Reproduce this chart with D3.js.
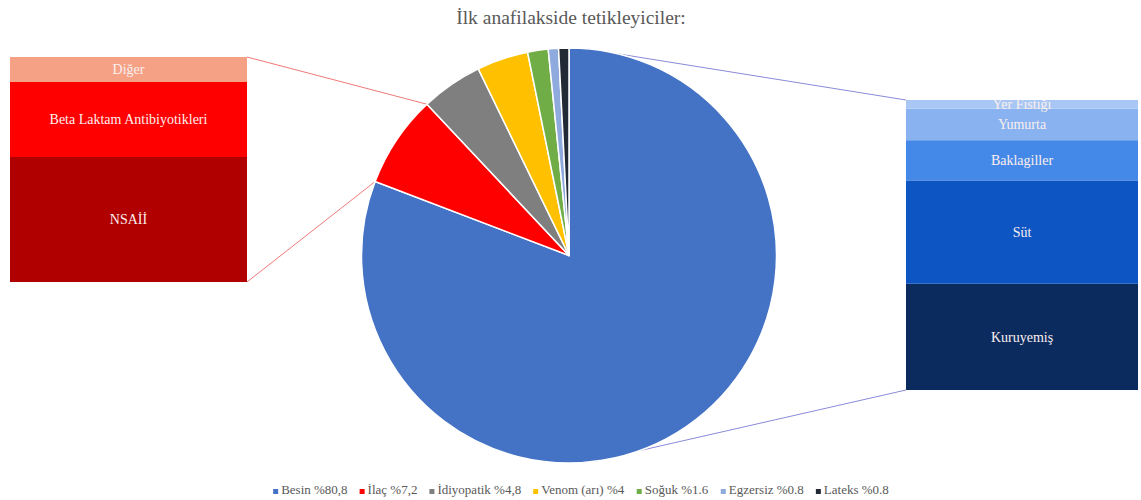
<!DOCTYPE html>
<html>
<head>
<meta charset="utf-8">
<script src="https://cdn.jsdelivr.net/npm/d3@7"></script>
<style>
    body { margin: 0; background: #fff; }
    text { font-family: "Liberation Serif", "Times New Roman", serif; }
</style>
</head>
<body>
<div id="chart"></div>
<script>
// ana pasta verisi (%)
const pieLabels = ["Besin", "İlaç", "İdiyopatik", "Venom (arı)", "Soğuk", "Egzersiz", "Lateks"];
const pieValues = [80.8, 7.2, 4.8, 4, 1.6, 0.8, 0.8];
const legendTexts = ["Besin %80,8", "İlaç %7,2", "İdiyopatik %4,8", "Venom (arı) %4", "Soğuk %1.6", "Egzersiz %0.8", "Lateks %0.8"];
const pieColors = ["#4472c4", "#ff0000", "#7f7f7f", "#ffc000", "#70ad47", "#8faadc", "#222a35"];

// İlaç alt kırılımı (hasta sayısı, alttan üste)
const drugLabels = ["NSAİİ", "Beta Laktam Antibiyotikleri", "Diğer"];
const drugValues = [5, 3, 1];
const drugColors = ["#b00000", "#ff0000", "#f4a186"];

// Besin alt kırılımı (hasta sayısı, alttan üste)
const foodLabels = ["Kuruyemiş", "Süt", "Baklagiller", "Yumurta", "Yer Fıstığı"];
const foodValues = [37, 36, 14, 11, 3];
const foodColors = ["#0b2b5f", "#0e55c4", "#4589e8", "#88b2f0", "#a9c7f4"];

const width = 1141, height = 500;
const cx = 569, cy = 255.5, r = 207.5;

const svg = d3.select("#chart").append("svg")
    .attr("width", width)
    .attr("height", height);

svg.append("text")
    .attr("x", 571)
    .attr("y", 24)
    .attr("text-anchor", "middle")
    .attr("fill", "#595959")
    .style("font-size", "19.5px")
    .text("İlk anafilakside tetikleyiciler:");

const pie = d3.pie().sort(null).value(d => d)(pieValues);
const arc = d3.arc().innerRadius(0).outerRadius(r);

// pasta kenarındaki nokta
function edge(angle) {
    return [cx + r * Math.sin(angle), cy - r * Math.cos(angle)];
}

// yığılmış sütun çizimi
function drawBar(x0, x1, yTop, yBottom, labels, values, colors, id) {
    const total = d3.sum(values);
    const y = d3.scaleLinear().domain([0, total]).range([yBottom, yTop]);
    const g = svg.append("g");
    g.append("clipPath").attr("id", id)
        .append("rect")
        .attr("x", x0).attr("y", y(total))
        .attr("width", x1 - x0).attr("height", y(0) - y(total));
    let acc = 0;
    const segs = values.map((v, i) => {
        const s = { label: labels[i], color: colors[i], lo: acc, hi: acc + v };
        acc += v;
        return s;
    });
    g.selectAll("rect.seg")
        .data(segs)
        .join("rect")
        .attr("class", "seg")
        .attr("x", x0)
        .attr("width", x1 - x0)
        .attr("y", d => y(d.hi))
        .attr("height", d => y(d.lo) - y(d.hi))
        .attr("fill", d => d.color);
    g.selectAll("text")
        .data(segs)
        .join("text")
        .attr("clip-path", `url(#${id})`)
        .attr("x", (x0 + x1) / 2)
        .attr("y", d => (y(d.lo) + y(d.hi)) / 2)
        .attr("dy", "0.35em")
        .attr("text-anchor", "middle")
        .attr("fill", "#fbefee")
        .style("font-size", "14px")
        .text(d => d.label);
    return { x0, x1, top: y(total), bottom: y(0) };
}

// bağlantı çizgileri (pastanın altında)
const lines = svg.append("g");

const leftBar = drawBar(10, 247, 57, 282, drugLabels, drugValues, drugColors, "clipL");
const rightBar = drawBar(906, 1138, 100, 390, foodLabels, foodValues, foodColors, "clipR");

const drug = pie[1];
const food = pie[0];
const leftLinks = [
    [[leftBar.x1, leftBar.top], edge(drug.endAngle)],
    [[leftBar.x1, leftBar.bottom], edge(drug.startAngle)]
];
const rightLinks = [
    [[rightBar.x0, rightBar.top], edge(food.startAngle + 0.08)],
    [[rightBar.x0, rightBar.bottom], edge(food.startAngle + Math.PI * 0.89)]
];
lines.selectAll("line.l")
    .data(leftLinks)
    .join("line")
    .attr("class", "l")
    .attr("x1", d => d[0][0]).attr("y1", d => d[0][1])
    .attr("x2", d => d[1][0]).attr("y2", d => d[1][1])
    .attr("stroke", "#f07a7a")
    .attr("stroke-width", 1);
lines.selectAll("line.r")
    .data(rightLinks)
    .join("line")
    .attr("class", "r")
    .attr("x1", d => d[0][0]).attr("y1", d => d[0][1])
    .attr("x2", d => d[1][0]).attr("y2", d => d[1][1])
    .attr("stroke", "#8a8ad8")
    .attr("stroke-width", 1);

svg.append("g")
    .attr("transform", `translate(${cx},${cy})`)
    .selectAll("path")
    .data(pie)
    .join("path")
    .attr("d", arc)
    .attr("fill", (d, i) => pieColors[i])
    .attr("stroke", "#fff")
    .attr("stroke-width", 1.5)
    .attr("stroke-linejoin", "round");

// lejant
const legend = svg.append("g");
const items = legend.selectAll("g")
    .data(legendTexts)
    .join("g");
items.append("rect")
    .attr("width", 5).attr("height", 5)
    .attr("y", -5)
    .attr("fill", (d, i) => pieColors[i]);
items.append("text")
    .attr("x", 8)
    .attr("fill", "#595959")
    .style("font-size", "13px")
    .text(d => d);
let lx = 0;
items.each(function () {
    const w = this.getBBox().width;
    d3.select(this).attr("transform", `translate(${lx},0)`);
    lx += w + 12;
});
lx -= 12;
legend.attr("transform", `translate(${581 - lx / 2},494)`);
</script>
</body>
</html>
